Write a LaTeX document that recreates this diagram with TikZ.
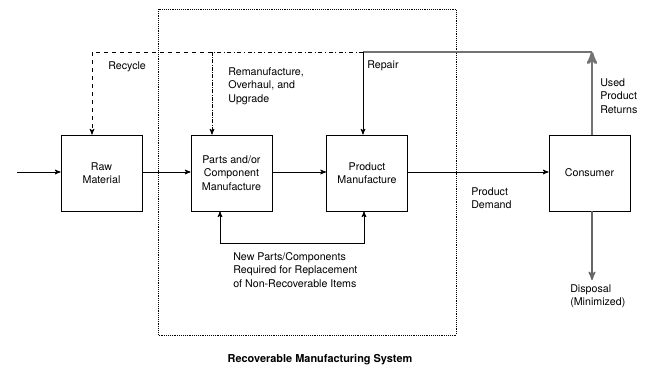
\documentclass[tikz,border=0pt]{standalone}
\usepackage{fontspec}
\setmainfont{TeX Gyre Heros}
\usepackage{tikz}
\usetikzlibrary{arrows,positioning,calc}
\tikzstyle{block}=[draw,semithick,minimum width=60.75pt,minimum height=57pt,inner sep=0pt,align=center,font=\fontsize{8}{10}\selectfont]
\tikzstyle{txt}=[inner sep=0pt,align=left,font=\fontsize{8}{10}\selectfont]
\tikzstyle{flow}=[semithick,-stealth']

\begin{document}
\begin{tikzpicture}[x=0.75pt,y=-0.75pt,>=stealth']
\useasboundingbox (0,0) rectangle (648,368);
% system boundary
\draw[densely dotted,thin] (158,9) rectangle (456,335);
\node[font=\fontsize{8.2}{10}\selectfont\bfseries] (title) at (320,360) {Recoverable Manufacturing System};
% boxes
\node [block] (raw) at (101.5,173) {Raw\\Material};
\node [block] (parts) at (231.5,173) {Parts and/or\\Component\\Manufacture};
\node [block] (prod) at (367,173) {Product\\Manufacture};
\node [block] (cons) at (589.5,173) {Consumer};
% forward flow
\coordinate (in) at (17,172);
\draw[flow] (in) -- (in -| raw.west);
\draw[flow] (raw.east |- in) -- (parts.west |- in);
\draw[flow] (parts.east |- in) -- (prod.west |- in);
\draw[flow] (prod.east |- in) -- (cons.west |- in);
\node[txt,anchor=west] (demand) at (471,198) {Product\\Demand};
% returns loop
\coordinate (ret) at (592,52);
\coordinate (rep) at (363,52);
\coordinate (rem) at (212,52);
\coordinate (rec) at (92,52);
\draw[line width=2pt,black!55,-stealth'] (cons.north -| ret) -- (ret);
\draw[line width=1.5pt,black!55] (ret) -- (rep);
\draw[flow] (rep) -- (rep |- prod.north);
\draw[semithick,dash dot] (rep) -- (rem);
\draw[semithick,dashed] (rem) -- (rec);
\draw[flow,dashed] (rec) -- (rec |- raw.north);
\draw[flow,densely dash dot] (rem) -- (rem |- parts.north);
\node[txt,anchor=west] (recycle) at (108,67) {Recycle};
\node[txt,anchor=west] (reman) at (228,86) {Remanufacture,\\Overhaul, and\\Upgrade};
\node[txt,anchor=west] (repair) at (367,66) {Repair};
\node[txt,anchor=west] (used) at (600,96) {Used\\Product\\Returns};
% new parts
\coordinate (np1) at (220,243);
\coordinate (np2) at (364,243);
\draw[semithick,stealth'-stealth'] (parts.south -| np1) -- (np1) -- (np2) -- (prod.south -| np2);
\node[txt,anchor=west] (newparts) at (233,270) {New Parts/Components\\Required for Replacement\\of Non-Recoverable Items};
% disposal
\coordinate (disp) at (592,280);
\draw[line width=1.2pt,black!60,-stealth'] (cons.south -| disp) -- (disp);
\node[txt,anchor=west] (dispo) at (570,296.5) {Disposal\\(Minimized)};
\end{tikzpicture}
\end{document}
